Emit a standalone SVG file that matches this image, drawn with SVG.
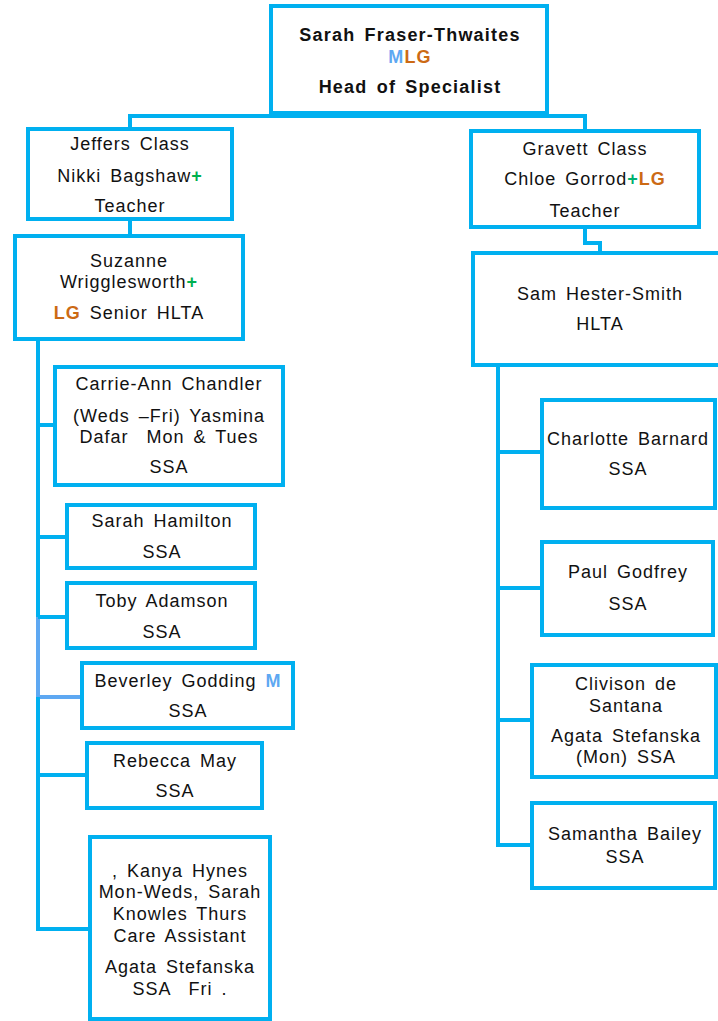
<svg xmlns="http://www.w3.org/2000/svg" width="718" height="1021" viewBox="0 0 718 1021">
<style>
.box{fill:#fff;stroke:#00B0F0;stroke-width:4}
.ln{fill:none;stroke:#00B0F0;stroke-width:4}
.lb{fill:none;stroke:#5EA8F2;stroke-width:4}
text{font-family:"Liberation Sans",Arial,sans-serif;font-size:18px;fill:#111;text-anchor:middle;letter-spacing:1px;word-spacing:3px}
.b{font-weight:bold;letter-spacing:1.2px}
.m{fill:#5EA8F2;font-weight:bold}
.o{fill:#CC6A14;font-weight:bold}
.g{fill:#00B050;font-weight:bold}
</style>
<rect width="718" height="1021" fill="#fff"/>
<g id="connectors">
<path class="ln" d="M130,129 V116 H585 V131"/>
<path class="ln" d="M130,219 V236"/>
<path class="ln" d="M585,227 V243 H600 V253"/>
<path class="ln" d="M38,339 V617"/>
<path class="lb" d="M38,617 V697 H82"/>
<path class="ln" d="M38,697 V929 H90"/>
<path class="ln" d="M38,425 H55 M38,537 H67 M38,617 H67 M38,775 H87"/>
<path class="ln" d="M498,365 V845 H532 M498,452 H542 M498,588 H542 M498,720 H532"/>
</g>
<g id="head">
<rect class="box" x="271" y="6" width="276" height="107"/>
<text class="b" x="410" y="41">Sarah Fraser-Thwaites</text>
<text class="b" x="410" y="63"><tspan class="m">M</tspan><tspan class="o">LG</tspan></text>
<text class="b" x="410" y="93">Head of Specialist</text>
</g>
<g id="jeffers">
<rect class="box" x="28" y="129" width="204" height="90"/>
<text x="130" y="150">Jeffers Class</text>
<text x="130" y="182">Nikki Bagshaw<tspan class="g">+</tspan></text>
<text x="130" y="212">Teacher</text>
</g>
<g id="suzanne">
<rect class="box" x="15" y="236" width="228" height="103"/>
<text x="129" y="267">Suzanne</text>
<text x="129" y="288">Wrigglesworth<tspan class="g">+</tspan></text>
<text x="129" y="319"><tspan class="o">LG</tspan> Senior HLTA</text>
</g>
<g id="carrie">
<rect class="box" x="55" y="367" width="228" height="118"/>
<text x="169" y="390">Carrie-Ann Chandler</text>
<text x="169" y="422">(Weds –Fri) Yasmina</text>
<text x="169" y="443" xml:space="preserve">Dafar  Mon &amp; Tues</text>
<text x="169" y="473">SSA</text>
</g>
<g id="hamilton">
<rect class="box" x="67" y="505" width="188" height="63"/>
<text x="162" y="527">Sarah Hamilton</text>
<text x="162" y="558">SSA</text>
</g>
<g id="toby">
<rect class="box" x="67" y="583" width="188" height="65"/>
<text x="162" y="607">Toby Adamson</text>
<text x="162" y="638">SSA</text>
</g>
<g id="beverley">
<rect class="box" x="82" y="663" width="211" height="65"/>
<text x="188" y="687">Beverley Godding <tspan class="m">M</tspan></text>
<text x="188" y="717">SSA</text>
</g>
<g id="rebecca">
<rect class="box" x="87" y="743" width="175" height="65"/>
<text x="175" y="767">Rebecca May</text>
<text x="175" y="797">SSA</text>
</g>
<g id="kanya">
<rect class="box" x="90" y="837" width="180" height="182"/>
<text x="180" y="877">, Kanya Hynes</text>
<text x="180" y="898">Mon-Weds, Sarah</text>
<text x="180" y="920">Knowles Thurs</text>
<text x="180" y="942">Care Assistant</text>
<text x="180" y="973">Agata Stefanska</text>
<text x="180" y="995" xml:space="preserve">SSA  Fri .</text>
</g>
<g id="gravett">
<rect class="box" x="471" y="131" width="228" height="96"/>
<text x="585" y="155">Gravett Class</text>
<text x="585" y="185">Chloe Gorrod<tspan class="g" style="fill:#00B070">+</tspan><tspan class="o">LG</tspan></text>
<text x="585" y="217">Teacher</text>
</g>
<g id="sam">
<rect class="box" x="473" y="253" width="260" height="112"/>
<text x="600" y="300">Sam Hester-Smith</text>
<text x="600" y="330">HLTA</text>
</g>
<g id="charlotte">
<rect class="box" x="542" y="400" width="173" height="108"/>
<text x="628" y="445">Charlotte Barnard</text>
<text x="628" y="475">SSA</text>
</g>
<g id="paul">
<rect class="box" x="542" y="542" width="171" height="93"/>
<text x="628" y="578">Paul Godfrey</text>
<text x="628" y="610">SSA</text>
</g>
<g id="clivison">
<rect class="box" x="532" y="665" width="184" height="112"/>
<text x="626" y="690">Clivison de</text>
<text x="626" y="712">Santana</text>
<text x="626" y="742">Agata Stefanska</text>
<text x="626" y="763">(Mon) SSA</text>
</g>
<g id="samantha">
<rect class="box" x="532" y="803" width="183" height="85"/>
<text x="625" y="840">Samantha Bailey</text>
<text x="625" y="863">SSA</text>
</g>
</svg>
